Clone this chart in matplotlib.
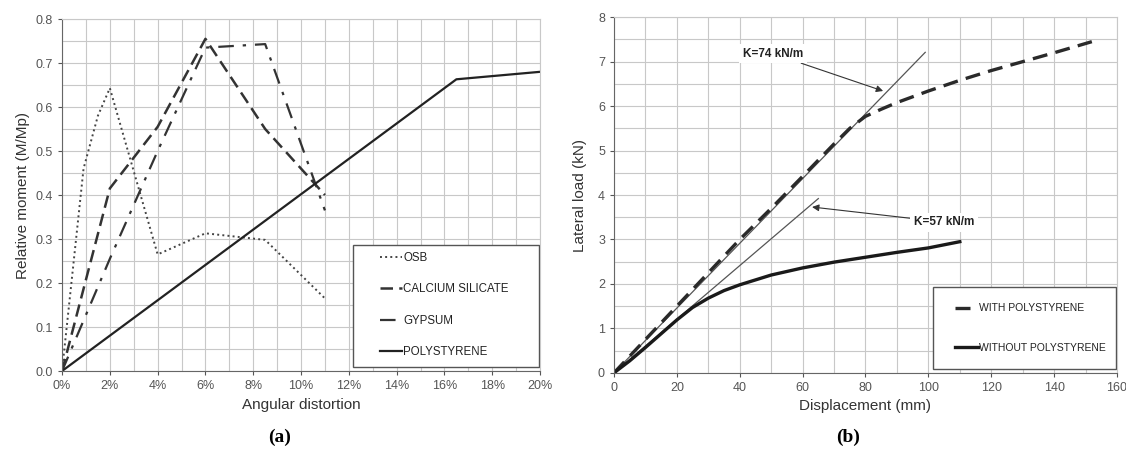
import matplotlib.pyplot as plt
from matplotlib.patches import Rectangle
from matplotlib.ticker import MultipleLocator, FuncFormatter

plt.rcParams['font.family'] = ['Liberation Sans', 'DejaVu Sans']

# (a) relative moment vs angular distortion (%)
osb_x = [0, 0.9, 1.5, 2.0, 4.0, 6.0, 8.5, 11.0]
osb_y = [0, 0.46, 0.58, 0.643, 0.265, 0.313, 0.298, 0.165]
cs_x = [0, 2.0, 4.0, 6.0, 8.5, 11.0]
cs_y = [0, 0.415, 0.555, 0.755, 0.55, 0.40]
gyp_x = [0, 2.0, 4.0, 6.0, 8.5, 11.0]
gyp_y = [0, 0.255, 0.50, 0.735, 0.743, 0.365]
ps_x = [0, 16.5, 20.0]
ps_y = [0, 0.663, 0.68]

# (b) lateral load vs displacement
with_d = [0, 10, 20, 30, 40, 50, 60, 70, 75, 80, 85, 90, 100, 110, 120, 130, 140, 152]
with_f = [0, 0.75, 1.5, 2.25, 3.0, 3.7, 4.42, 5.15, 5.5, 5.77, 5.93, 6.08, 6.34, 6.58, 6.8, 7.0, 7.2, 7.45]
without_d = [0, 5, 10, 15, 20, 25, 30, 35, 40, 50, 60, 70, 80, 90, 100, 110]
without_f = [0, 0.27, 0.57, 0.88, 1.19, 1.47, 1.68, 1.85, 1.98, 2.2, 2.36, 2.49, 2.6, 2.71, 2.81, 2.95]
k74_d = [0, 99]
k74_f = [0, 7.21]
k57_d = [0, 65]
k57_f = [0, 3.92]

fig = plt.figure(figsize=(11.26, 4.53), dpi=100)
ax1 = fig.add_axes([0.0551, 0.181, 0.4245, 0.777])
ax2 = fig.add_axes([0.5453, 0.177, 0.4467, 0.785])

grid_c = '#c8c8c8'
tick_c = '#555555'
for ax in (ax1, ax2):
    ax.set_axisbelow(True)
    ax.grid(which='both', color=grid_c, linewidth=0.8)
    for s in ('top', 'right'):
        ax.spines[s].set_color(grid_c)
    for s in ('left', 'bottom'):
        ax.spines[s].set_color('#666666')
    ax.tick_params(which='major', colors=tick_c, labelsize=9, length=3)
    ax.tick_params(which='minor', length=0)

# panel (a)
ax1.plot(osb_x, osb_y, linestyle=':', color='#444444', lw=1.4, label='OSB')
ax1.plot(cs_x, cs_y, linestyle=(0, (5, 2.5)), color='#333333', lw=1.8, label='CALCIUM SILICATE')
ax1.plot(gyp_x, gyp_y, linestyle=(0, (7, 4, 1.5, 4)), color='#333333', lw=1.6, label='GYPSUM')
ax1.plot(ps_x, ps_y, linestyle='-', color='#222222', lw=1.6, label='POLYSTYRENE')
ax1.set_xlim(0, 20)
ax1.set_ylim(0, 0.8)
ax1.xaxis.set_major_locator(MultipleLocator(2))
ax1.xaxis.set_minor_locator(MultipleLocator(1))
ax1.yaxis.set_major_locator(MultipleLocator(0.1))
ax1.yaxis.set_minor_locator(MultipleLocator(0.05))
ax1.xaxis.set_major_formatter(FuncFormatter(lambda v, p: f'{v:.0f}%'))
ax1.yaxis.set_major_formatter(FuncFormatter(lambda v, p: f'{v:.1f}'))
ax1.set_xlabel('Angular distortion', fontsize=11, color='#333333', labelpad=4)
ax1.set_ylabel('Relative moment (M/Mp)', fontsize=11, color='#333333', labelpad=4)

# legend box drawn separately so it can be wider than the entries
ax1.add_patch(Rectangle((0.609, 0.011), 0.389, 0.347, transform=ax1.transAxes,
                        fill=True, fc='white', ec='#555555', lw=1.0, zorder=4))
leg1 = ax1.legend(loc='center', bbox_to_anchor=(0.80, 0.1875), fontsize=8.3,
                  frameon=False, labelspacing=1.7, handlelength=1.9,
                  handletextpad=0.15, borderpad=0, borderaxespad=0)
leg1.set_zorder(5)
for t in leg1.get_texts():
    t.set_color('#222222')

# panel (b)
ax2.plot(k74_d, k74_f, color='#555555', lw=0.9)
ax2.plot(k57_d, k57_f, color='#555555', lw=0.9)
ax2.plot(with_d, with_f, linestyle=(0, (4.5, 2.5)), color='#2a2a2a', lw=2.4, label='WITH POLYSTYRENE')
ax2.plot(without_d, without_f, linestyle='-', color='#1a1a1a', lw=2.4, label='WITHOUT POLYSTYRENE')
ax2.set_xlim(0, 160)
ax2.set_ylim(0, 8)
ax2.xaxis.set_major_locator(MultipleLocator(20))
ax2.xaxis.set_minor_locator(MultipleLocator(10))
ax2.yaxis.set_major_locator(MultipleLocator(1))
ax2.yaxis.set_minor_locator(MultipleLocator(0.5))
ax2.set_xlabel('Displacement (mm)', fontsize=11, color='#333333', labelpad=4)
ax2.set_ylabel('Lateral load (kN)', fontsize=11, color='#333333', labelpad=8)

ax2.annotate('K=74 kN/m', xy=(85.6, 6.34), xytext=(50.6, 7.18), fontsize=8.5,
             fontweight='bold', ha='center', va='center', color='#222222',
             bbox=dict(boxstyle='square,pad=0.3', fc='white', ec='none'),
             arrowprops=dict(arrowstyle='-|>', color='#333333', lw=0.8, mutation_scale=10,
                             shrinkA=0, shrinkB=0))
ax2.annotate('K=57 kN/m', xy=(63, 3.73), xytext=(105, 3.39), fontsize=8.5,
             fontweight='bold', ha='center', va='center', color='#222222',
             bbox=dict(boxstyle='square,pad=0.3', fc='white', ec='none'),
             arrowprops=dict(arrowstyle='-|>', color='#333333', lw=0.8, mutation_scale=10,
                             shrinkA=0, shrinkB=0))

ax2.add_patch(Rectangle((0.634, 0.011), 0.364, 0.231, transform=ax2.transAxes,
                        fill=True, fc='white', ec='#555555', lw=1.0, zorder=4))
leg2 = ax2.legend(loc='center', bbox_to_anchor=(0.827, 0.126), fontsize=7.5,
                  frameon=False, labelspacing=2.8, handlelength=2.2,
                  handletextpad=0.1, borderpad=0, borderaxespad=0)
leg2.set_zorder(5)
for t in leg2.get_texts():
    t.set_color('#222222')

fig.text(280 / 1126, 1 - 437 / 453, '(a)', fontsize=14, fontweight='bold',
         family=['Liberation Serif', 'DejaVu Serif'], ha='center', va='center')
fig.text(848 / 1126, 1 - 437 / 453, '(b)', fontsize=14, fontweight='bold',
         family=['Liberation Serif', 'DejaVu Serif'], ha='center', va='center')

fig.savefig('out.png', dpi=100)
